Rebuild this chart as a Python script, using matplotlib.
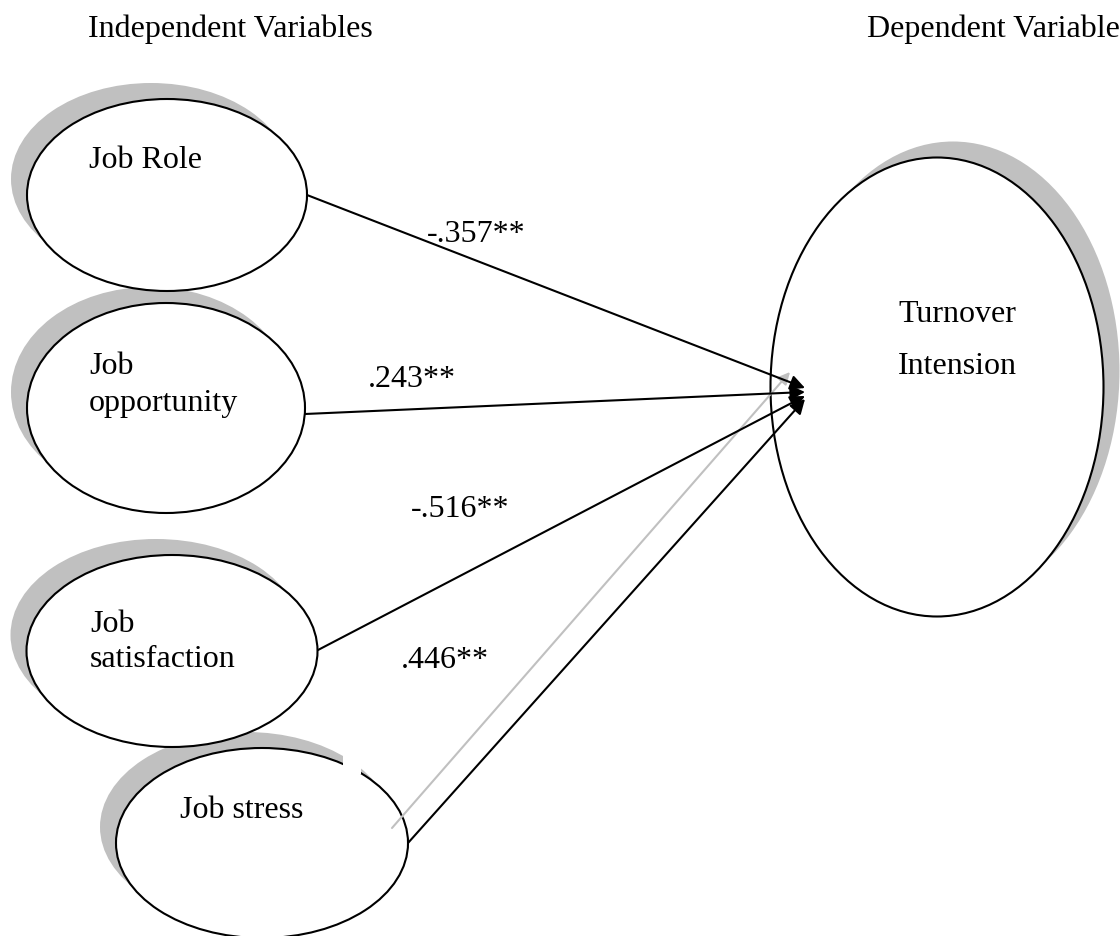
import matplotlib
matplotlib.use("Agg")
import matplotlib.pyplot as plt
from matplotlib.patches import Ellipse, Rectangle

# Path model: independent variables -> turnover intension
factors = ["Job Role", "Job opportunity", "Job satisfaction", "Job stress"]
factor_lines = [["Job Role"], ["Job", "opportunity"], ["Job", "satisfaction"], ["Job stress"]]
coefficients = [-0.357, 0.243, -0.516, 0.446]
coef_labels = ["-.357**", ".243**", "-.516**", ".446**"]
target_lines = ["Turnover", "Intension"]

# geometry in pixel units (y grows downwards)
node_xy = [(167, 195), (166, 408), (172, 651), (262, 843)]
node_wh = [(280, 192), (278, 210), (291, 192), (292, 190)]
text_xy = [(89, 168), (89, 374), (90, 632), (180, 818)]
line_gap = [37, 37, 35, 37]
start_xy = [(307, 195), (305, 414), (318, 650), (408, 843)]
end_xy = [(805, 388), (805, 392), (805, 396), (805, 399)]
label_xy = [(476, 242), (412, 387), (460, 517), (445, 668)]
target_xy = (937, 387)
target_wh = (333, 459)

plt.rcParams['font.family'] = ['Liberation Serif', 'DejaVu Serif']
FS = 23
shadow = "#c0c0c0"

fig = plt.figure(figsize=(11.2, 9.36), dpi=100)
ax = fig.add_axes([0, 0, 1, 1])
ax.set_xlim(0, 1120)
ax.set_ylim(936, 0)
ax.axis("off")

# shadows first
for (cx, cy), (w, h) in zip(node_xy, node_wh):
    ax.add_patch(Ellipse((cx - 16, cy - 16), w, h, facecolor=shadow, edgecolor="none", zorder=1))
ax.add_patch(Ellipse((target_xy[0] + 16, target_xy[1] - 16), *target_wh,
                     facecolor=shadow, edgecolor="none", zorder=1))

for (cx, cy), (w, h) in zip(node_xy, node_wh):
    ax.add_patch(Ellipse((cx, cy), w, h, facecolor="white", edgecolor="black", lw=1.5, zorder=2))
ax.add_patch(Ellipse(target_xy, *target_wh, facecolor="white", edgecolor="black", lw=1.5, zorder=2))

# small gap in the job stress outline
ax.add_patch(Rectangle((343, 740), 18, 34, facecolor="white", edgecolor="none", zorder=2.5))

# grey path from job stress
ax.annotate("", xy=(790, 372), xytext=(392, 828),
            arrowprops=dict(arrowstyle="-|>", color=shadow, lw=1.5, mutation_scale=18,
                            shrinkA=0, shrinkB=0), zorder=3)

for (x0, y0), (x1, y1) in zip(start_xy, end_xy):
    ax.annotate("", xy=(x1, y1), xytext=(x0, y0),
                arrowprops=dict(arrowstyle="-|>", color="black", lw=1.5, mutation_scale=22,
                                shrinkA=0, shrinkB=0), zorder=4)

for lines, (tx, ty), gap in zip(factor_lines, text_xy, line_gap):
    for i, s in enumerate(lines):
        ax.text(tx, ty + i * gap, s, fontsize=FS, ha="left", va="baseline", zorder=5)

for s, (lx, ly) in zip(coef_labels, label_xy):
    ax.text(lx, ly, s, fontsize=FS, ha="center", va="baseline", zorder=5)

for i, s in enumerate(target_lines):
    ax.text(957, 322 + i * 52, s, fontsize=FS, ha="center", va="baseline", zorder=5)

clip = Rectangle((0, 0), 1120, 38, transform=ax.transData)
for s, x in [("Independent Variables", 88), ("Dependent Variable", 867)]:
    t = ax.text(x, 37, s, fontsize=FS, ha="left", va="baseline")
    t.set_clip_path(clip)

fig.savefig("out.png", dpi=100)
